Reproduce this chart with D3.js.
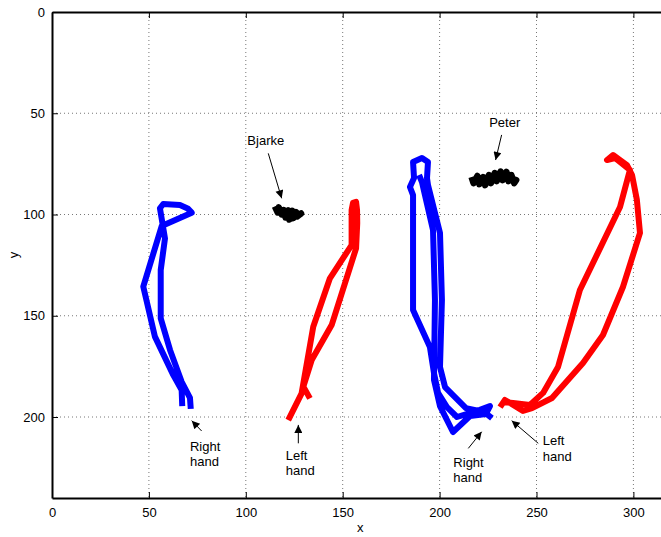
<!DOCTYPE html>
<html>
<head>
<meta charset="utf-8">
<script src="https://cdn.jsdelivr.net/npm/d3@7/dist/d3.min.js"></script>
<style>
  body { margin: 0; background: #fff; }
  text { font-family: "Liberation Sans", Arial, sans-serif; fill: #000; }
</style>
</head>
<body>
<div id="chart"></div>
<script>
// tick values
const xTicks = [0, 50, 100, 150, 200, 250, 300];
const yTicks = [0, 50, 100, 150, 200];

// tracked hand paths (x, y)
const rightHand1 = [
  [67.2, 194.6], [66.9, 186.7], [62.6, 179.3], [53.1, 160.3], [47.1, 135.6],
  [56.6, 105.7], [72.1, 99.1], [70.0, 97.0], [66.0, 95.3], [57.4, 94.8],
  [55.7, 96.9], [58.3, 111.8], [56.1, 127.4], [56.1, 151.3], [60.9, 166.9],
  [66.9, 182.6], [71.2, 190.6], [71.6, 196.0]
];
const leftHand1 = [
  [121.9, 201.5], [128.8, 188.3], [134.8, 155.4], [143.4, 131.5], [154.6, 115.1],
  [154.6, 97.8], [155.3, 94.3], [156.9, 93.8], [157.4, 97.8], [157.5, 104.3],
  [156.9, 116.7], [144.3, 154.6], [134.0, 171.9], [129.7, 185.0], [133.1, 190.8]
];
const rightHand2 = [
  [227.0, 200.5], [222.9, 197.5], [213.6, 195.6], [202.8, 185.2], [200.2, 175.3],
  [201.2, 142.2], [200.2, 109.1], [194.0, 85.4], [193.5, 82.0], [194.0, 74.1],
  [190.9, 72.1], [186.3, 74.1], [186.8, 82.0], [184.7, 86.4], [186.3, 90.4],
  [186.3, 104.2], [186.3, 147.2], [195.0, 165.4], [197.1, 178.3], [199.2, 188.1],
  [203.8, 195.1], [209.0, 200.0], [220.8, 196.5], [226.0, 194.6], [223.9, 198.5],
  [215.7, 199.5], [206.9, 207.4], [200.2, 194.6], [197.1, 181.7], [197.6, 142.2],
  [196.6, 107.7], [190.9, 84.0], [189.4, 80.5]
];
const leftHand2 = [
  [231.2, 195.1], [233.7, 191.6], [243.0, 197.0], [247.7, 195.6], [258.0, 190.6],
  [274.0, 173.3], [284.3, 159.5], [294.6, 135.8], [303.4, 109.1], [301.8, 92.8],
  [299.3, 80.5], [296.7, 75.6], [289.5, 70.6], [286.4, 73.1], [290.5, 72.1],
  [298.2, 78.0], [293.1, 96.3], [272.4, 137.3], [261.1, 175.3], [253.4, 188.1],
  [246.6, 194.1], [237.9, 193.1], [232.2, 192.6]
];

// head positions
const bjarke = [
  [115.0, 96.0], [116.5, 99.0], [117.0, 96.5], [118.5, 100.0], [119.5, 97.8],
  [120.5, 101.5], [122.0, 98.0], [122.5, 102.5], [124.0, 98.2], [124.5, 101.8],
  [126.0, 98.8], [126.5, 101.0], [128.5, 99.5], [127.0, 100.5], [124.0, 100.0],
  [120.0, 99.5], [117.0, 98.0]
];
const peter = [
  [216.5, 81.5], [217.5, 84.5], [219.5, 81.0], [220.5, 85.0], [222.5, 81.5],
  [223.5, 85.5], [225.5, 80.5], [226.5, 84.5], [228.5, 79.5], [229.5, 83.5],
  [231.5, 78.8], [232.5, 83.0], [234.5, 79.0], [235.5, 83.5], [237.0, 80.5],
  [238.5, 84.5], [239.5, 83.0], [236.0, 82.0], [230.0, 81.5], [224.0, 83.0],
  [219.0, 83.0]
];

// annotations: text position (left, first baseline), arrow tail -> tip
const labels = [
  { lines: ["Bjarke"], at: [100.8, 65.7], tail: [111.6, 69.8], tip: [118.5, 92.0] },
  { lines: ["Peter"], at: [225.6, 56.9], tail: [232.0, 60.7], tip: [228.9, 73.1] },
  { lines: ["Right", "hand"], at: [71.2, 216.6], tail: [77.2, 206.9], tip: [72.1, 201.8] },
  { lines: ["Left", "hand"], at: [120.6, 221.1], tail: [127.1, 213.0], tip: [127.1, 203.9] },
  { lines: ["Right", "hand"], at: [207.1, 224.5], tail: [214.8, 215.5], tip: [221.7, 207.3] },
  { lines: ["Left", "hand"], at: [253.2, 213.8], tail: [250.9, 213.0], tip: [237.2, 201.8] }
];

const W = 661, H = 537;
const mLeft = 52, mTop = 12, mBottom = 498;

const svg = d3.select("#chart").append("svg")
  .attr("width", W).attr("height", H);

const x = d3.scaleLinear().domain([0, 315]).range([mLeft, mLeft + 315 * 1.938]);
const y = d3.scaleLinear().domain([0, 240]).range([mTop, mBottom]);
const mRight = x(315);

// grid
const grid = svg.append("g").attr("stroke", "#777").attr("stroke-width", 1)
  .attr("stroke-dasharray", "1,3");
grid.selectAll("line.gx").data(xTicks.slice(1)).join("line").attr("class", "gx")
  .attr("x1", d => x(d)).attr("x2", d => x(d))
  .attr("y1", mTop).attr("y2", mBottom);
grid.selectAll("line.gy").data(yTicks.slice(1)).join("line").attr("class", "gy")
  .attr("x1", mLeft).attr("x2", mRight)
  .attr("y1", d => y(d)).attr("y2", d => y(d));

// traces
const line = d3.line().x(d => x(d[0])).y(d => y(d[1]));
const traces = [
  { data: rightHand1, color: "#0000ff", w: 6 },
  { data: leftHand1, color: "#ff0000", w: 6 },
  { data: rightHand2, color: "#0000ff", w: 6 },
  { data: leftHand2, color: "#ff0000", w: 6 },
  { data: bjarke, color: "#000", w: 6.5 },
  { data: peter, color: "#000", w: 6.5 }
];
svg.append("g").selectAll("path").data(traces).join("path")
  .attr("d", d => line(d.data))
  .attr("fill", "none")
  .attr("stroke", d => d.color)
  .attr("stroke-width", d => d.w)
  .attr("stroke-linejoin", "round");

// axes
const xAxis = svg.append("g").attr("transform", `translate(0,${mBottom})`)
  .call(d3.axisBottom(x).tickValues(xTicks).tickSizeInner(-6).tickSizeOuter(0).tickPadding(10));
const xTop = svg.append("g").attr("transform", `translate(0,${mTop})`)
  .call(d3.axisTop(x).tickValues(xTicks).tickSizeInner(-6).tickSizeOuter(0).tickFormat(""));
const yAxis = svg.append("g").attr("transform", `translate(${mLeft},0)`)
  .call(d3.axisLeft(y).tickValues(yTicks).tickSizeInner(-6).tickSizeOuter(0).tickPadding(7));

[xAxis, xTop, yAxis].forEach(g => {
  g.select(".domain").attr("stroke", "#000").attr("stroke-width", 2);
  g.selectAll(".tick line").attr("stroke", "#000").attr("stroke-width", 1);
  g.selectAll(".tick text").attr("font-size", 13)
    .attr("font-family", "'Liberation Sans', Arial, sans-serif").attr("fill", "#000");
});
xAxis.selectAll(".tick text").attr("dy", "0.71em");

svg.append("text").attr("x", x(159)).attr("y", 532)
  .attr("text-anchor", "middle").attr("font-size", 13).text("x");
svg.append("text").attr("transform", `translate(18,${(mTop + mBottom) / 2}) rotate(-90)`)
  .attr("text-anchor", "middle").attr("font-size", 13).text("y");

// annotations
svg.append("defs").append("marker")
  .attr("id", "head").attr("viewBox", "0 0 10 10")
  .attr("refX", 10).attr("refY", 5)
  .attr("markerWidth", 10).attr("markerHeight", 8)
  .attr("markerUnits", "userSpaceOnUse")
  .attr("orient", "auto")
  .append("path").attr("d", "M0,0L10,5L0,10Z").attr("fill", "#000");

const ann = svg.append("g");
ann.selectAll("line").data(labels).join("line")
  .attr("x1", d => x(d.tail[0])).attr("y1", d => y(d.tail[1]))
  .attr("x2", d => x(d.tip[0])).attr("y2", d => y(d.tip[1]))
  .attr("stroke", "#000").attr("stroke-width", 1)
  .attr("marker-end", "url(#head)");
ann.selectAll("text").data(labels).join("text")
  .attr("x", d => x(d.at[0])).attr("y", d => y(d.at[1]))
  .attr("font-size", 13)
  .each(function (d) {
    d3.select(this).selectAll("tspan").data(d.lines).join("tspan")
      .attr("x", x(d.at[0])).attr("dy", (t, i) => i ? 15.6 : 0)
      .text(t => t);
  });
</script>
</body>
</html>
